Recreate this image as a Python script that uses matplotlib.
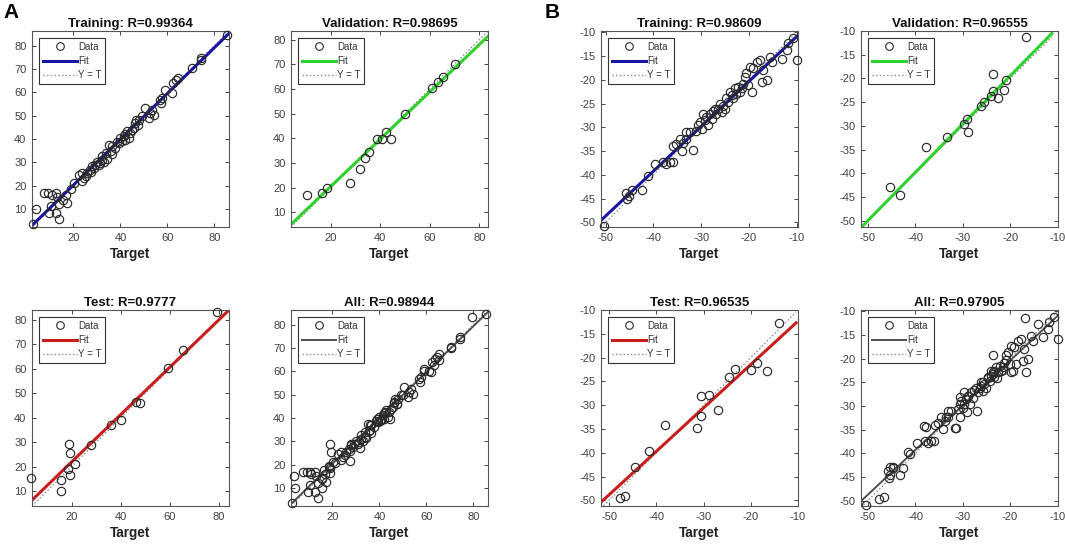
import numpy as np
import matplotlib
matplotlib.use('Agg')
import matplotlib.pyplot as plt
from matplotlib.lines import Line2D

plt.rcParams['font.family'] = ['Liberation Sans', 'DejaVu Sans']
plt.rcParams['axes.unicode_minus'] = False

# ---------------- data ----------------
# Panel A
a_train_t = [3.0, 4.1, 7.6, 9.3, 12.5, 11.1, 13.2, 10.4, 9.7, 12.5, 13.7, 13.9, 15.4, 17.5, 16.8,
             18.9, 20.3, 22.4, 23.8, 23.8, 25.2, 25.9, 27.3, 28.0, 29.4, 30.1, 31.5, 32.3, 33.0,
             33.7, 34.4, 35.1, 36.5, 36.5, 38.6, 40.0, 40.7, 41.4, 42.1, 42.8, 43.5, 44.9, 45.6,
             46.6, 46.3, 47.7, 50.6, 52.0, 52.7, 53.4, 56.9, 57.3, 57.6, 59.0, 61.8, 62.5, 63.5,
             64.6, 70.3, 74.2, 74.5, 85.5, 24.5, 26.9, 28.7, 30.8, 32.3, 35.8, 37.9, 39.3, 41.8,
             44.2, 49.2, 54.1, 48.0]
a_train_y = [3.7, 10.0, 16.9, 17.1, 17.1, 16.1, 15.4, 11.4, 8.3, 8.3, 5.7, 12.3, 14.0, 12.6, 16.1,
             18.6, 21.4, 24.7, 25.4, 21.9, 24.0, 25.4, 26.1, 28.3, 29.0, 30.4, 29.7, 31.1, 30.4,
             34.0, 31.4, 37.3, 33.7, 36.9, 38.6, 40.4, 39.0, 41.1, 42.3, 43.3, 40.4, 44.0, 44.7,
             48.3, 46.9, 46.1, 53.3, 49.0, 51.1, 52.3, 56.9, 55.4, 57.6, 61.1, 59.7, 64.0, 65.4,
             66.1, 70.4, 74.7, 74.0, 84.3, 23.3, 26.9, 27.6, 29.0, 32.6, 34.7, 36.1, 38.3, 39.7,
             42.6, 49.7, 50.4, 48.3]
a_val_t = [10.3, 16.6, 18.7, 27.7, 31.7, 33.9, 35.5, 38.9, 40.9, 42.2, 44.5, 49.9, 61.1, 63.4, 65.4, 70.3]
a_val_y = [17.0, 17.7, 19.7, 21.7, 27.4, 32.1, 34.6, 39.7, 39.7, 42.7, 39.6, 49.8, 60.3, 62.8, 64.7, 70.1]
a_test_t = [3.5, 15.5, 15.5, 18.9, 19.3, 18.5, 19.2, 21.2, 27.8, 36.1, 40.2, 46.1, 47.7, 59.0, 65.3, 79.3]
a_test_y = [15.2, 14.4, 10.0, 29.1, 25.7, 19.1, 16.4, 20.9, 28.7, 37.0, 38.9, 46.6, 46.0, 60.2, 67.6, 83.0]

# Panel B
b_train_t = [-50.4, -45.7, -45.5, -45.2, -44.6, -42.5, -41.1, -38.0, -37.3, -36.6, -36.0, -35.9,
             -34.5, -34.1, -33.8, -33.1, -32.4, -31.7, -31.0, -30.6, -30.3, -29.9, -29.2, -28.9,
             -28.5, -28.2, -27.8, -27.5, -26.8, -26.4, -25.7, -25.4, -25.0, -24.3, -24.0, -23.3,
             -22.9, -22.6, -22.2, -21.9, -21.2, -20.8, -20.5, -20.1, -19.8, -19.4, -17.7, -17.3,
             -16.3, -15.6, -15.2, -17.0, -13.1, -12.1, -11.7, -10.0, -10.7, -29.6, -27.1, -26.1,
             -24.7, -23.6, -21.5, -33.1, -35.2, -39.7, -19.1, -18.4]
b_train_y = [-50.8, -43.8, -45.2, -44.5, -43.1, -43.1, -40.2, -37.4, -37.8, -37.4, -37.4, -33.9,
             -32.4, -34.9, -33.2, -32.4, -31.0, -34.7, -30.7, -29.6, -28.9, -30.3, -28.5, -27.8,
             -29.6, -27.1, -28.2, -26.6, -27.1, -26.1, -26.8, -25.4, -26.1, -24.7, -22.5, -23.9,
             -21.8, -22.9, -21.5, -22.5, -20.8, -19.3, -18.6, -21.1, -17.2, -22.5, -15.8, -20.4,
             -20.1, -15.1, -16.2, -17.9, -15.5, -13.7, -12.3, -15.8, -11.2, -27.1, -26.1, -25.0,
             -23.9, -23.2, -21.8, -31.0, -33.5, -37.8, -17.6, -16.2]
b_val_t = [-45.3, -43.1, -37.8, -33.4, -29.8, -29.2, -29.0, -26.1, -25.6, -24.1, -23.6, -23.6,
           -22.7, -21.4, -20.9, -16.8]
b_val_y = [-42.8, -44.5, -34.4, -32.3, -29.6, -28.6, -31.3, -25.8, -24.9, -23.6, -22.7, -19.1,
           -24.1, -22.4, -20.3, -11.3]
b_test_t = [-47.6, -46.6, -44.6, -41.5, -38.1, -31.3, -30.6, -30.6, -28.9, -27.0, -24.7, -23.4,
            -19.9, -18.7, -16.6, -14.1]
b_test_y = [-49.6, -49.1, -42.9, -39.7, -34.2, -34.7, -28.1, -32.3, -27.9, -31.0, -24.0, -22.5,
            -22.7, -21.2, -22.9, -12.7]

# titles, fit lines (slope, intercept) and axis limits
a_titles = ['Training: R=0.99364', 'Validation: R=0.98695', 'Test: R=0.9777', 'All: R=0.98944']
b_titles = ['Training: R=0.98609', 'Validation: R=0.96555', 'Test: R=0.96535', 'All: R=0.97905']
a_fits = [(0.98, 0.7), (0.96, 1.2), (0.97, 2.5), (0.98, 0.9)]
b_fits = [(0.944, -1.46), (1.02, 1.0), (0.913, -3.2), (0.945, -1.5)]
a_lims = [(2.4, 86.2), (4.0, 83.5), (3.9, 84.0), (2.4, 86.2)]
b_lims = [((-51.0, -9.7), (-51.0, -9.7)), ((-51.4, -11.3), (-51.3, -11.2)),
          ((-51.7, -10.4), (-51.2, -11.1)), ((-51.4, -9.9), (-51.1, -9.7))]
a_ticks = [20, 40, 60, 80]
a_yticks = [10, 20, 30, 40, 50, 60, 70, 80]
b_ticks = [-50, -40, -30, -20, -10]
b_yticks = [-50, -45, -40, -35, -30, -25, -20, -15, -10]

fit_colors = ['#1515a8', '#2ed12e', '#c81e1e', '#505050']
fit_widths = [2.2, 2.2, 2.2, 1.4]

# ---------------- layout ----------------
fig = plt.figure(figsize=(10.65, 5.45), dpi=100)
W, H = 1065.0, 545.0
col_left = [32, 291, 601, 861]
row_top = [31, 310]
ax_w, ax_h = 197, 196


def make_axes(col, row):
    left = col_left[col] / W
    bottom = 1 - (row_top[row] + ax_h) / H
    return fig.add_axes([left, bottom, ax_w / W, ax_h / H])


def draw_panel(ax, t, y, title, fit, xlim, ylim, color, lw, xticks, yticks):
    ax.plot(xlim, [xlim[0], xlim[1]], linestyle=':', color='#8a8a8a', linewidth=1.0, zorder=1)
    slope, icpt = fit
    xs = np.array(xlim)
    ax.plot(xs, slope * xs + icpt, color=color, linewidth=lw, zorder=2)
    ax.plot(t, y, linestyle='none', marker='o', markersize=6, markerfacecolor='none',
            markeredgecolor='#2a2a2a', markeredgewidth=0.85, zorder=3, clip_on=False)
    ax.set_xlim(xlim)
    ax.set_ylim(ylim)
    ax.set_xticks(xticks)
    ax.set_yticks(yticks)
    ax.tick_params(direction='in', length=3, width=0.7, top=True, right=True,
                   labelsize=8, labelcolor='#404040', color='#444444', pad=4)
    for s in ax.spines.values():
        s.set_color('#555555')
        s.set_linewidth(0.8)
    ax.set_title(title, fontsize=9.5, fontweight='bold', pad=3, color='#111111')
    ax.set_xlabel('Target', fontsize=9.8, fontweight='bold', color='#222222', labelpad=3)

    handles = [
        Line2D([], [], linestyle='none', marker='o', markersize=5.5, markerfacecolor='none',
               markeredgecolor='#2a2a2a', markeredgewidth=0.8),
        Line2D([], [], color=color, linewidth=lw),
        Line2D([], [], color='#8a8a8a', linestyle=':', linewidth=1.0),
    ]
    leg = ax.legend(handles, ['Data', 'Fit', 'Y = T'], loc='upper left', fontsize=7,
                    handlelength=3.5, handletextpad=0.15, labelspacing=0.45,
                    borderpad=0.4, borderaxespad=0.7, fancybox=False, framealpha=1)
    leg.get_frame().set_edgecolor('#333333')
    leg.get_frame().set_linewidth(0.8)
    for txt in leg.get_texts():
        txt.set_color('#333333')


a_data = [(a_train_t, a_train_y), (a_val_t, a_val_y), (a_test_t, a_test_y),
          (a_train_t + a_val_t + a_test_t, a_train_y + a_val_y + a_test_y)]
b_data = [(b_train_t, b_train_y), (b_val_t, b_val_y), (b_test_t, b_test_y),
          (b_train_t + b_val_t + b_test_t, b_train_y + b_val_y + b_test_y)]

grid_pos = [(0, 0), (1, 0), (0, 1), (1, 1)]

for i, (c, r) in enumerate(grid_pos):
    ax = make_axes(c, r)
    t, y = a_data[i]
    draw_panel(ax, t, y, a_titles[i], a_fits[i], a_lims[i], a_lims[i],
               fit_colors[i], fit_widths[i], a_ticks, a_yticks)

for i, (c, r) in enumerate(grid_pos):
    ax = make_axes(c + 2, r)
    t, y = b_data[i]
    xl, yl = b_lims[i]
    draw_panel(ax, t, y, b_titles[i], b_fits[i], xl, yl,
               fit_colors[i], fit_widths[i], b_ticks, b_yticks)

fig.text(3 / W, 1 - 12 / H, 'A', fontsize=15, fontweight='bold', va='center', ha='left')
fig.text(545 / W, 1 - 12 / H, 'B', fontsize=15, fontweight='bold', va='center', ha='left')

fig.savefig('out.png', dpi=100)
